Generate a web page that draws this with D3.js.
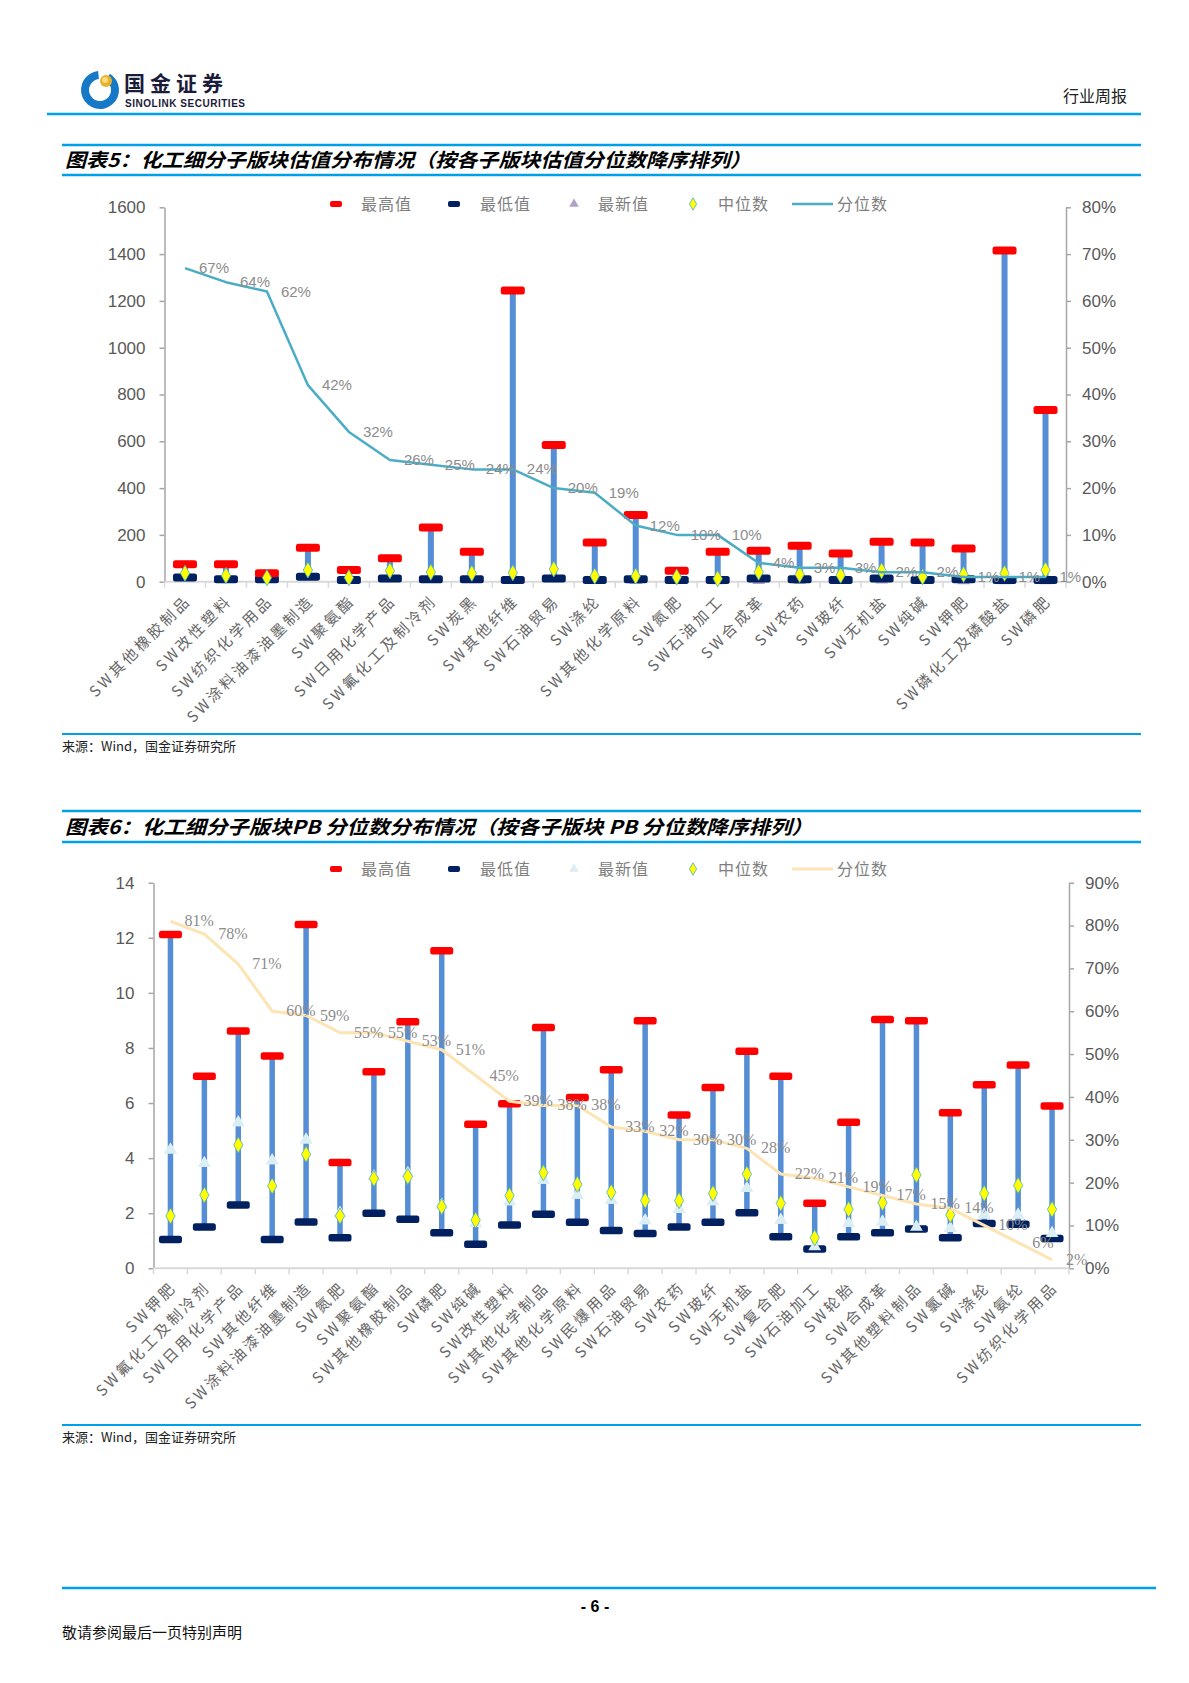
<!DOCTYPE html>
<html lang="zh">
<head>
<meta charset="UTF-8">
<title>化工细分子版块估值分布</title>
<script src="https://cdnjs.cloudflare.com/ajax/libs/d3/7.8.5/d3.min.js"></script>
<style>
  html, body { margin: 0; padding: 0; background: #fff; }
  svg { display: block; }
</style>
</head>
<body>
<div id="page"></div>
<script>
// ---- chart 5: valuation distribution (sorted by percentile) ----
var cats5 = ["SW其他橡胶制品", "SW改性塑料", "SW纺织化学用品", "SW涂料油漆油墨制造", "SW聚氨酯",
  "SW日用化学产品", "SW氟化工及制冷剂", "SW炭黑", "SW其他纤维", "SW石油贸易", "SW涤纶",
  "SW其他化学原料", "SW氮肥", "SW石油加工", "SW合成革", "SW农药", "SW玻纤", "SW无机盐",
  "SW纯碱", "SW钾肥", "SW磷化工及磷酸盐", "SW磷肥"];
var max5 = [75, 75, 36, 145, 50, 100, 232, 128, 1244, 584, 167, 285, 47, 128, 132, 154, 121, 171, 167, 142, 1415, 734];
var min5 = [18, 11, 11, 21, 7, 14, 11, 11, 7, 14, 7, 11, 7, 7, 14, 11, 7, 14, 7, 11, 7, 7];
var latest5 = [30, 20, 12, 28, 8, 15, 10, 10, 8, 15, 6, 6, 6, 5, 6, 6, 6, 8, 6, 5, 5, 5];
var median5 = [36, 26, 17, 50, 17, 47, 41, 36, 38, 54, 24, 24, 20, 13, 41, 31, 28, 47, 21, 31, 36, 50];
var pct5 = [67, 64, 62, 42, 32, 26, 25, 24, 24, 20, 19, 12, 10, 10, 4, 3, 3, 2, 2, 1, 1, 1];
var leftTicks5 = [0, 200, 400, 600, 800, 1000, 1200, 1400, 1600];
var rightTicks5 = [0, 10, 20, 30, 40, 50, 60, 70, 80];

// ---- chart 6: PB percentile distribution ----
var cats6 = ["SW钾肥", "SW氟化工及制冷剂", "SW日用化学产品", "SW其他纤维", "SW涂料油漆油墨制造",
  "SW氮肥", "SW聚氨酯", "SW其他橡胶制品", "SW磷肥", "SW纯碱", "SW改性塑料", "SW其他化学制品",
  "SW其他化学原料", "SW民爆用品", "SW石油贸易", "SW农药", "SW玻纤", "SW无机盐", "SW复合肥",
  "SW石油加工", "SW轮胎", "SW合成革", "SW其他塑料制品", "SW氯碱", "SW涤纶", "SW氨纶", "SW纺织化学用品"];
var max6 = [12.12, 6.97, 8.62, 7.71, 12.48, 3.84, 7.14, 8.95, 11.53, 5.23, 5.97, 8.74, 6.20, 7.21,
  8.99, 5.57, 6.56, 7.88, 6.97, 2.36, 5.30, 9.03, 8.99, 5.65, 6.66, 7.38, 5.89];
var min6 = [1.05, 1.50, 2.30, 1.05, 1.68, 1.11, 2.00, 1.78, 1.29, 0.87, 1.57, 1.96, 1.67, 1.37,
  1.26, 1.50, 1.67, 2.02, 1.15, 0.70, 1.15, 1.29, 1.43, 1.11, 1.63, 1.60, 1.08];
var latest6 = [4.30, 3.81, 5.29, 3.91, 4.66, 2.00, 3.33, 3.45, 2.30, 1.63, 2.42, 3.20, 2.66, 2.48,
  1.73, 2.14, 2.42, 2.90, 1.75, 0.79, 1.63, 1.69, 1.50, 1.45, 1.94, 1.94, 1.27];
var median6 = [1.90, 2.66, 4.48, 2.99, 4.14, 1.90, 3.26, 3.33, 2.24, 1.75, 2.64, 3.47, 3.05, 2.76,
  2.46, 2.46, 2.72, 3.42, 2.36, 1.11, 2.14, 2.38, 3.39, 1.94, 2.72, 3.01, 2.14];
var pct6 = [81, 78, 71, 60, 59, 55, 55, 53, 51, 45, 39, 38, 38, 33, 32, 30, 30, 28, 22, 21, 19, 17, 15, 14, 10, 6, 2];
var leftTicks6 = [0, 2, 4, 6, 8, 10, 12, 14];
var rightTicks6 = [0, 10, 20, 30, 40, 50, 60, 70, 80, 90];

var legendNames = ["最高值", "最低值", "最新值", "中位数", "分位数"];

var W = 1189, H = 1683;
var BLUE_RULE = "#00a0e9";
var CJK = "'Noto Sans CJK SC', sans-serif";
var SANS = "'Liberation Sans', Arial, sans-serif";
var SERIF = "'Liberation Serif', 'Times New Roman', serif";

var svg = d3.select("#page").append("svg")
  .attr("width", W).attr("height", H)
  .attr("viewBox", "0 0 " + W + " " + H);

svg.append("rect").attr("width", W).attr("height", H).attr("fill", "#fff");

// ---------- page header ----------
var logo = svg.append("g").attr("transform", "translate(100,90)");
logo.append("path")
  .attr("d", d3.arc().innerRadius(11).outerRadius(19).startAngle(0.55).endAngle(2 * Math.PI - 0.1)())
  .attr("fill", "#1778c6");
logo.append("circle").attr("cx", 6).attr("cy", -9).attr("r", 6).attr("fill", "#e8b030");
logo.append("circle").attr("cx", 5).attr("cy", -10).attr("r", 3).attr("fill", "#f7dc7a");

svg.append("text").attr("x", 124).attr("y", 91)
  .attr("font-family", CJK).attr("font-weight", "bold").attr("font-size", 21)
  .attr("fill", "#1b1b3a").attr("textLength", 99).text("国金证券");
svg.append("text").attr("x", 125).attr("y", 107)
  .attr("font-family", SANS).attr("font-weight", "bold").attr("font-size", 10)
  .attr("fill", "#1b1b3a").attr("textLength", 120).text("SINOLINK SECURITIES");
svg.append("text").attr("x", 1127).attr("y", 102).attr("text-anchor", "end")
  .attr("font-family", CJK).attr("font-size", 16).attr("fill", "#222").text("行业周报");
svg.append("line").attr("x1", 47).attr("x2", 1141).attr("y1", 114).attr("y2", 114)
  .attr("stroke", BLUE_RULE).attr("stroke-width", 2.5);

// ---------- page footer ----------
svg.append("line").attr("x1", 62).attr("x2", 1156).attr("y1", 1588).attr("y2", 1588)
  .attr("stroke", BLUE_RULE).attr("stroke-width", 2.5);
svg.append("text").attr("x", 595).attr("y", 1612).attr("text-anchor", "middle")
  .attr("font-family", SANS).attr("font-weight", "bold").attr("font-size", 16)
  .attr("fill", "#000").text("- 6 -");
svg.append("text").attr("x", 62).attr("y", 1638)
  .attr("font-family", CJK).attr("font-size", 15).attr("fill", "#111").text("敬请参阅最后一页特别声明");

// ---------- one chart block ----------
function drawChart(o) {
  var g = svg.append("g");

  // title band
  g.append("line").attr("x1", 62).attr("x2", 1141).attr("y1", o.ruleTop).attr("y2", o.ruleTop)
    .attr("stroke", BLUE_RULE).attr("stroke-width", 2.5);
  g.append("line").attr("x1", 62).attr("x2", 1141).attr("y1", o.ruleBottom).attr("y2", o.ruleBottom)
    .attr("stroke", BLUE_RULE).attr("stroke-width", 2.5);
  g.append("text").attr("x", 65).attr("y", (o.ruleTop + o.ruleBottom) / 2 + 7)
    .attr("font-family", CJK).attr("font-weight", "bold").attr("font-style", "italic")
    .attr("font-size", 19).attr("fill", "#000")
    .attr("textLength", o.titleWidth).attr("lengthAdjust", "spacingAndGlyphs")
    .text(o.title);

  // source band
  g.append("line").attr("x1", 62).attr("x2", 1141).attr("y1", o.sourceRule).attr("y2", o.sourceRule)
    .attr("stroke", BLUE_RULE).attr("stroke-width", 2);
  g.append("text").attr("x", 62).attr("y", o.sourceRule + 17)
    .attr("font-family", CJK).attr("font-size", 13).attr("fill", "#222")
    .text("来源：Wind，国金证券研究所");

  // scales
  var x = d3.scaleBand().domain(o.cats).range([o.left, o.right]);
  var y = d3.scaleLinear().domain([0, o.leftTicks[o.leftTicks.length - 1]]).range([o.bottom, o.top]);
  var y2 = d3.scaleLinear().domain([0, o.rightTicks[o.rightTicks.length - 1]]).range([o.bottom, o.top]);
  var cx = function (i) { return x(o.cats[i]) + x.bandwidth() / 2; };

  // left axis
  var ax = g.append("g").attr("transform", "translate(" + o.left + ",0)")
    .call(d3.axisLeft(y).tickValues(o.leftTicks).tickSize(5).tickSizeOuter(0).tickPadding(14)
      .tickFormat(d3.format("d")));
  ax.select(".domain").attr("stroke", "#a6a6a6").attr("stroke-width", 1.5);
  ax.selectAll(".tick line").attr("stroke", "#a6a6a6").attr("stroke-width", 1.5);
  ax.selectAll(".tick text").attr("font-family", SANS).attr("font-size", 17).attr("fill", "#595959");

  // right axis
  var ar = g.append("g").attr("transform", "translate(" + o.right + ",0)")
    .call(d3.axisRight(y2).tickValues(o.rightTicks).tickSize(5).tickSizeOuter(0).tickPadding(11)
      .tickFormat(function (d) { return d + "%"; }));
  ar.select(".domain").attr("stroke", "#a6a6a6").attr("stroke-width", 1.5);
  ar.selectAll(".tick line").attr("stroke", "#a6a6a6").attr("stroke-width", 1.5);
  ar.selectAll(".tick text").attr("font-family", SANS).attr("font-size", 17).attr("fill", "#595959");

  // category axis with ticks at band edges
  g.append("line").attr("x1", o.left).attr("x2", o.right).attr("y1", o.bottom).attr("y2", o.bottom)
    .attr("stroke", "#d9d9d9").attr("stroke-width", 2);
  var edges = o.cats.map(function (c) { return x(c); }).concat([o.right]);
  g.selectAll(".xtick").data(edges).enter().append("line")
    .attr("x1", function (d) { return d; }).attr("x2", function (d) { return d; })
    .attr("y1", o.bottom).attr("y2", o.bottom + 6)
    .attr("stroke", "#d9d9d9").attr("stroke-width", 1.5);
  g.selectAll(".xlab").data(o.cats).enter().append("text")
    .attr("transform", function (d, i) {
      return "translate(" + (cx(i) + 7) + "," + (o.bottom + 20) + ") rotate(-45)";
    })
    .attr("text-anchor", "end")
    .attr("font-family", o.labelFont).attr("font-size", 15).attr("letter-spacing", 3)
    .attr("fill", "#666").text(function (d) { return d; });

  // high-low bars
  g.selectAll(".hl").data(o.cats).enter().append("rect")
    .attr("x", function (d, i) { return cx(i) - o.barW / 2; })
    .attr("width", o.barW)
    .attr("y", function (d, i) { return y(o.max[i]); })
    .attr("height", function (d, i) { return y(o.min[i]) - y(o.max[i]); })
    .attr("fill", "#558ed5");

  // latest (triangle), under the dashes
  g.selectAll(".latest").data(o.latest).enter().append("path")
    .attr("d", d3.symbol().type(d3.symbolTriangle).size(70))
    .attr("transform", function (d, i) { return "translate(" + cx(i) + "," + y(d) + ")"; })
    .attr("fill", o.triColor);

  // min / max dashes
  g.selectAll(".mn").data(o.min).enter().append("rect")
    .attr("x", function (d, i) { return cx(i) - o.dashW / 2; })
    .attr("y", function (d) { return y(d) - o.dashH / 2; })
    .attr("width", o.dashW).attr("height", o.dashH).attr("rx", 2.5)
    .attr("fill", "#002060");
  g.selectAll(".mx").data(o.max).enter().append("rect")
    .attr("x", function (d, i) { return cx(i) - o.dashW / 2; })
    .attr("y", function (d) { return y(d) - o.dashH / 2; })
    .attr("width", o.dashW).attr("height", o.dashH).attr("rx", 2.5)
    .attr("fill", "#ff0000");

  // in chart 6 the triangles sit on top of the min dash
  if (o.triOnTop) {
    g.selectAll(".latest2").data(o.latest).enter().append("path")
      .attr("d", d3.symbol().type(d3.symbolTriangle).size(70))
      .attr("transform", function (d, i) { return "translate(" + cx(i) + "," + y(d) + ")"; })
      .attr("fill", o.triColor);
  }

  // median (diamond)
  g.selectAll(".med").data(o.median).enter().append("path")
    .attr("d", d3.symbol().type(d3.symbolDiamond).size(75))
    .attr("transform", function (d, i) { return "translate(" + cx(i) + "," + y(d) + ")"; })
    .attr("fill", "#ffff00").attr("stroke", "#4bacc6").attr("stroke-width", 0.8);

  // percentile line
  var line = d3.line()
    .x(function (d, i) { return cx(i); })
    .y(function (d) { return y2(d); });
  g.append("path").datum(o.pct).attr("d", line)
    .attr("fill", "none").attr("stroke", o.lineColor).attr("stroke-width", o.lineW)
    .attr("stroke-linejoin", "round");
  g.selectAll(".pl").data(o.pct).enter().append("text")
    .attr("x", function (d, i) { return cx(i) + 14; })
    .attr("y", function (d) { return y2(d) + 5; })
    .attr("font-family", o.pctFont).attr("font-size", o.pctSize).attr("fill", "#8c8c8c")
    .text(function (d) { return d + "%"; });

  // legend
  var ly = o.legendY;
  var lg = g.append("g");
  lg.append("rect").attr("x", 330).attr("y", ly - 3).attr("width", 12).attr("height", 6).attr("rx", 2).attr("fill", "#ff0000");
  lg.append("rect").attr("x", 448).attr("y", ly - 3).attr("width", 12).attr("height", 6).attr("rx", 2).attr("fill", "#002060");
  lg.append("path").attr("d", d3.symbol().type(d3.symbolTriangle).size(40))
    .attr("transform", "translate(574," + ly + ")").attr("fill", o.triColor);
  lg.append("path").attr("d", d3.symbol().type(d3.symbolDiamond).size(45))
    .attr("transform", "translate(693," + ly + ")")
    .attr("fill", "#ffff00").attr("stroke", "#4bacc6").attr("stroke-width", 0.8);
  lg.append("line").attr("x1", 792).attr("x2", 833).attr("y1", ly).attr("y2", ly)
    .attr("stroke", o.lineColor).attr("stroke-width", o.lineW);
  var lx = [361, 480, 598, 718, 837];
  lg.selectAll("text").data(legendNames).enter().append("text")
    .attr("x", function (d, i) { return lx[i]; }).attr("y", ly + 6)
    .attr("font-family", CJK).attr("font-size", 16).attr("fill", "#7f7f7f")
    .attr("letter-spacing", 1)
    .text(function (d) { return d; });
}

drawChart({
  title: "图表5：化工细分子版块估值分布情况（按各子版块估值分位数降序排列）",
  titleWidth: 686, ruleTop: 145, ruleBottom: 175, sourceRule: 734,
  cats: cats5, max: max5, min: min5, latest: latest5, median: median5, pct: pct5,
  leftTicks: leftTicks5, rightTicks: rightTicks5,
  left: 164.5, right: 1066, top: 207.3, bottom: 581.7,
  barW: 6, dashW: 24, dashH: 8, triColor: "#b3a2c7", triOnTop: false,
  lineColor: "#4bacc6", lineW: 2.5, pctFont: SANS, pctSize: 15, labelFont: CJK,
  legendY: 204
});

drawChart({
  title: "图表6：化工细分子版块PB 分位数分布情况（按各子版块 PB 分位数降序排列）",
  titleWidth: 748, ruleTop: 811, ruleBottom: 842, sourceRule: 1425,
  cats: cats6, max: max6, min: min6, latest: latest6, median: median6, pct: pct6,
  leftTicks: leftTicks6, rightTicks: rightTicks6,
  left: 153.5, right: 1069, top: 882.7, bottom: 1268.3,
  barW: 5.5, dashW: 23, dashH: 7.5, triColor: "#dbeef4", triOnTop: true,
  lineColor: "#fce4b4", lineW: 3, pctFont: SERIF, pctSize: 16, labelFont: CJK,
  legendY: 869
});
</script>
</body>
</html>
